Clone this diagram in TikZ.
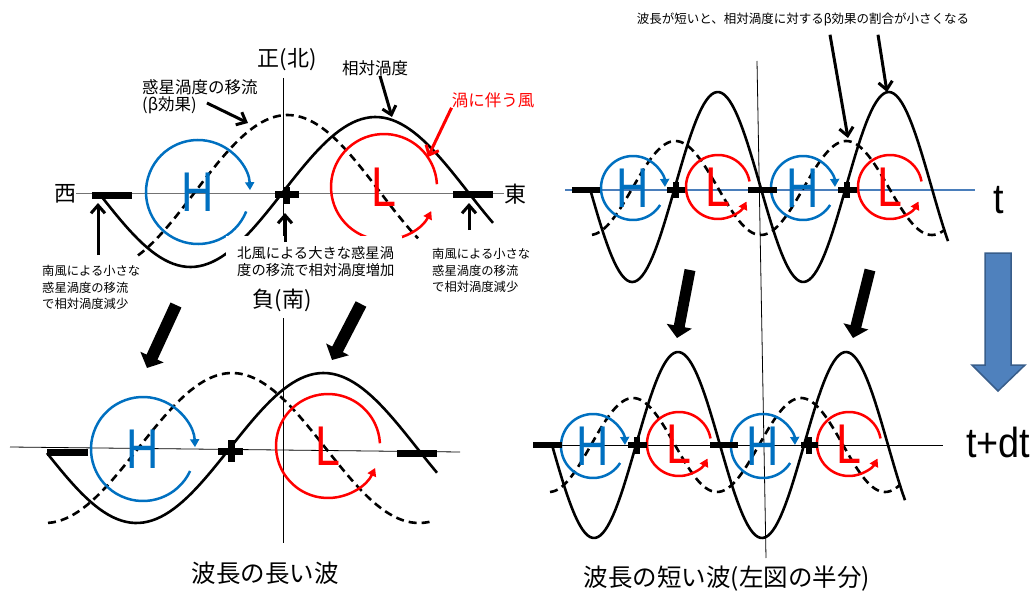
\documentclass[tikz,border=0pt]{standalone}
\usepackage{fontspec}
\setmainfont{Noto Sans CJK JP}
\newfontfamily\hlfont[FakeStretch=0.8]{Liberation Sans}
\newfontfamily\tfont[FakeStretch=0.9]{Liberation Sans}
\usetikzlibrary{arrows.meta}
\definecolor{hblue}{HTML}{0070C0}
\definecolor{lred}{HTML}{FF0000}
\definecolor{axblue}{HTML}{4A7EBB}
\definecolor{tfill}{HTML}{4F81BD}
\definecolor{tedge}{HTML}{385D8A}

\begin{document}
\begin{tikzpicture}[
  x=1pt, y=-1pt,
  big/.style={inner sep=0pt, font=\fontsize{22}{24}\selectfont},
  note/.style={inner sep=0pt, font=\fontsize{16.5}{19}\selectfont},
  tiny/.style={inner xsep=0pt, inner ysep=10pt, align=left,
               font=\fontsize{12.3}{16.5}\selectfont},
  wcap/.style={inner sep=0pt, font=\fontsize{24.5}{28}\selectfont},
  hl/.style={inner sep=0pt, font=\hlfont\fontsize{56}{56}\selectfont},
  tlab/.style={inner sep=0pt, font=\tfont\fontsize{42}{42}\selectfont},
  ax/.style={black!55, line width=1pt},
  axb/.style={axblue, line width=1.5pt},
  vax/.style={black, line width=0.8pt},
  rel/.style={black, line width=2.6pt, line join=round},
  beta/.style={black, line width=2.6pt, dash pattern=on 8pt off 5pt},
  bar/.style={line width=7pt},
  sbar/.style={line width=5.5pt},
  hi/.style={hblue, line width=2.5pt, -{Triangle[length=8pt,width=9pt]}},
  lo/.style={lred, line width=2.5pt, -{Triangle[length=8pt,width=9pt]}},
  ptr/.style={line width=3pt, -{Straight Barb[length=8pt,width=14pt]}},
  fat/.style={line width=12pt, -{Triangle[length=12pt,width=25pt]}}
]
\useasboundingbox (0,0) rectangle (1034,591);

% axis labels, long wave
\node[big] (nlab) at (287,60)  {正(北)};
\node[big] (slab) at (282,300) {負(南)};
\node[big] (wlab) at (65,194)  {西};
\node[big] (elab) at (515,194) {東};

% axes
\draw[ax] (wlab.east) -- (elab.west);
\draw[vax] (283,78) -- (283,236);
\draw[vax] (10,447) -- (460,452);
\draw[vax] (283,318) -- (283,543);
\draw[axb] (565,190) -- (975,190);
\draw[vax] (533,445) -- (943,445);
\draw[vax] (757,61) -- (766,558);

% long wave, time t
\draw[beta] plot[domain=138:418, samples=80] (\x, {192-77*sin((\x-195)/185*180)});
\draw[rel] plot[domain=103:493, samples=90] (\x, {192-75*sin((\x-283)/185*180)});
\node[hl, text=hblue] (hA) at (198,192) {H};
\node[hl, text=lred] (lA) at (384,187) {L};
\draw[hi] (hA) ++(-22:52pt) arc[start angle=-22, end angle=-358, radius=52pt];
\draw[lo] (lA) ++(3:53pt) arc[start angle=3, end angle=333, radius=53pt];
\draw[bar] (92,196) -- (132,196);
\draw[bar] (275,195) -- (299,195);
\draw[bar] (286,187) -- (286,204);
\draw[bar] (453,195) -- (493,195);

% long wave, time t+dt
\draw[beta] plot[domain=48:433, samples=90] (\x, {448-75*sin((\x-138.5)/187*180)});
\draw[rel] plot[domain=47:437, samples=90] (\x, {448-75*sin((\x-230)/187*180)});
\node[hl, text=hblue] (hB) at (143,449) {H};
\node[hl, text=lred] (lB) at (328,446) {L};
\draw[hi] (hB) ++(-25:52pt) arc[start angle=-25, end angle=-358, radius=52pt];
\draw[lo] (lB) ++(3:52pt) arc[start angle=3, end angle=335, radius=52pt];
\draw[bar] (47,452) -- (88,452);
\draw[bar] (218,451) -- (243,451);
\draw[bar] (231,440) -- (231,462);
\draw[bar] (397,453) -- (437,453);

% short wave, time t
\draw[beta] plot[domain=592:945, samples=140] (\x, {188-47*sin((\x-632.5)/85.5*180)});
\draw[rel] plot[domain=591:948, samples=140] (\x, {187-95*sin((\x-675)/85.5*180)});
\node[hl, text=hblue] (hC) at (633,188) {H};
\node[hl, text=lred] (lC) at (718,187) {L};
\node[hl, text=hblue] (hE) at (803,188) {H};
\node[hl, text=lred] (lE) at (890,187) {L};
\draw[hi] (hC) ++(-32:32pt) arc[start angle=-32, end angle=-358, radius=32pt];
\draw[lo] (lC) ++(10:32pt) arc[start angle=10, end angle=333, radius=32pt];
\draw[hi] (hE) ++(-32:32pt) arc[start angle=-32, end angle=-358, radius=32pt];
\draw[lo] (lE) ++(10:32pt) arc[start angle=10, end angle=333, radius=32pt];
\draw[sbar] (572,190) -- (600,190);
\draw[sbar] (667,190) -- (685,190);
\draw[sbar] (676,182) -- (676,198);
\draw[sbar] (748,190) -- (777,190);
\draw[sbar] (838,190) -- (857,190);
\draw[sbar] (847,182) -- (847,198);

% short wave, time t+dt
\draw[beta] plot[domain=550:900, samples=140] (\x, {445-47*sin((\x-591)/84*180)});
\draw[rel] plot[domain=552:905, samples=140] (\x, {445-93*sin((\x-636)/84*180)});
\node[hl, text=hblue] (hD) at (593,446) {H};
\node[hl, text=lred] (lD) at (679,444) {L};
\node[hl, text=hblue] (hF) at (763,446) {H};
\node[hl, text=lred] (lF) at (849,444) {L};
\draw[hi] (hD) ++(-32:32pt) arc[start angle=-32, end angle=-358, radius=32pt];
\draw[lo] (lD) ++(10:32pt) arc[start angle=10, end angle=333, radius=32pt];
\draw[hi] (hF) ++(-32:32pt) arc[start angle=-32, end angle=-358, radius=32pt];
\draw[lo] (lF) ++(10:32pt) arc[start angle=10, end angle=333, radius=32pt];
\draw[sbar] (533,445) -- (562,445);
\draw[sbar] (628,445) -- (647,445);
\draw[sbar] (637,437) -- (637,454);
\draw[sbar] (710,445) -- (738,445);
\draw[sbar] (801,445) -- (818,445);
\draw[sbar] (809,437) -- (809,454);

% notes
\node[note, anchor=west] (beta1) at (142,87) {惑星渦度の移流};
\node[note, anchor=west] (beta2) at (142,105) {(β効果)};
\node[note] (rellab) at (375,68) {相対渦度};
\node[note, text=lred] (windlab) at (493,100) {渦に伴う風};
\node[tiny, anchor=north west] (swlab) at (42,255)
  {南風による小さな\\惑星渦度の移流\\で相対渦度減少};
\node[tiny, anchor=north west, fill=white, inner xsep=11pt, text width=154pt,
      font=\fontsize{14.3}{17}\selectfont] (nwlab) at (226,236)
  {北風による大きな惑星渦\\度の移流で相対渦度増加};
\node[tiny, anchor=north west] (selab) at (432,238)
  {南風による小さな\\惑星渦度の移流\\で相対渦度減少};
\node[inner xsep=0pt, inner ysep=9pt, font=\fontsize{12.5}{14}\selectfont] (shortlab) at (803,19)
  {波長が短いと、相対渦度に対するβ効果の割合が小さくなる};
\node[wcap] (longcap) at (265,573) {波長の長い波};
\node[wcap] (shortcap) at (727,579) {波長の短い波(左図の半分)};
\node[tlab, anchor=base] (tnow) at (999,213) {t};
\node[tlab, anchor=base west] (tnext) at (966,457) {t+dt};

% pointers
\coordinate (betaT) at (248,123);
\coordinate (relT) at (392,117);
\coordinate (windT) at (428,157);
\coordinate (wT) at (98,203);
\coordinate (cT) at (285,213);
\coordinate (eT) at (469,203);
\coordinate (sT1) at (848,138);
\coordinate (sT2) at (887,92);
\draw[ptr] ([xshift=10pt,yshift=2pt]beta2.east) -- (betaT);
\draw[ptr] ([xshift=5pt]rellab.south) -- (relT);
\draw[ptr, lred] (windlab.south west) -- (windT);
\draw[ptr] (swlab.north -| wT) -- (wT);
\draw[ptr] ([yshift=-6pt]nwlab.north -| cT) -- (cT);
\draw[ptr] ([yshift=8pt]selab.north -| eT) -- (eT);
\draw[ptr] ([xshift=27pt]shortlab.south) -- (sT1);
\draw[ptr] ([xshift=75pt]shortlab.south) -- (sT2);

% time step arrows
\coordinate (fa1) at (176,305); \coordinate (fb1) at (147,368);
\coordinate (fa2) at (361,304); \coordinate (fb2) at (332,360);
\coordinate (fa3) at (690,270); \coordinate (fb3) at (677,338);
\coordinate (fa4) at (870,270); \coordinate (fb4) at (853,338);
\draw[fat] (fa1) -- (fb1);
\draw[fat] (fa2) -- (fb2);
\draw[fat, line width=11pt] (fa3) -- (fb3);
\draw[fat, line width=11pt] (fa4) -- (fb4);
\draw[fill=tfill, draw=tedge, line width=1.5pt, line join=miter]
  (985,253) -- (1011,253) -- (1011,365) -- (1025,365) -- (998,391)
  -- (972,365) -- (985,365) -- cycle;

\end{tikzpicture}
\end{document}
